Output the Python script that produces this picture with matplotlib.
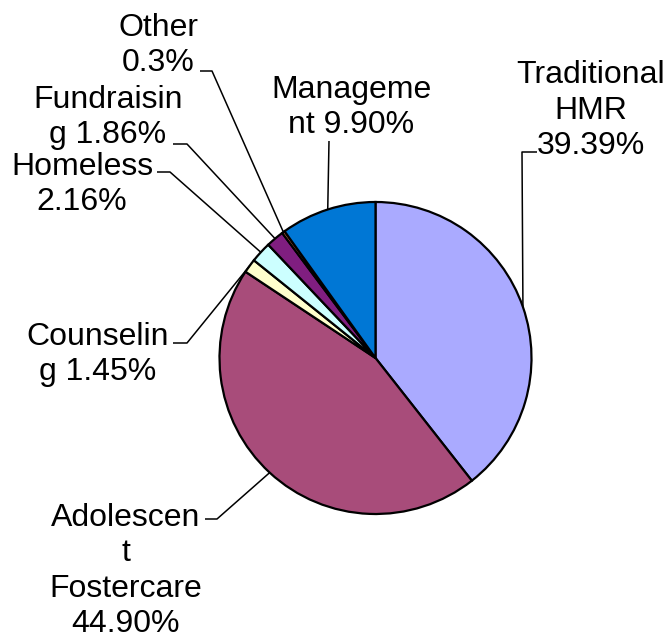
import numpy as np
import matplotlib
matplotlib.use("Agg")
import matplotlib.pyplot as plt

# ---- data ----
categories = ["Traditional HMR", "Adolescent Fostercare", "Counseling", "Homeless",
              "Fundraising", "Other", "Management"]
values = [39.39, 44.90, 1.45, 2.16, 1.86, 0.3, 9.90]
labels = ["Traditional\nHMR\n39.39%", "Adolescen\nt\nFostercare\n44.90%",
          "Counselin\ng 1.45%", "Homeless\n2.16%", "Fundraisin\ng 1.86%",
          "Other\n0.3%", "Manageme\nnt 9.90%"]
colors = ["#AAAAFF", "#A84C7A", "#FFFFCC", "#CCFFFF", "#801E80", "#E07040", "#0077D5"]

W, H = 668, 639
fig = plt.figure(figsize=(W / 100, H / 100), dpi=100)
ax = fig.add_axes([0, 0, 1, 1])

cx, cy, R = 375.5, H - 358, 156
wedges, _ = ax.pie(values, colors=colors, startangle=90, counterclock=False,
                   center=(cx, cy), radius=R,
                   wedgeprops=dict(edgecolor="black", linewidth=1.6))
ax.set_xlim(0, W)
ax.set_ylim(0, H)
ax.set_aspect("equal")
ax.axis("off")

# label layout (pixel coords from top): text x, last baseline y, stub start x, stub end x, stub y
layout = [
    (591, 154, 537, 522, 152, True),    # Traditional (vertical leader)
    (126, 632, 205, 217, 519, False),   # Adolescent
    (98, 380, 173, 187, 343, False),    # Counseling
    (82, 210, 157, 170, 172, False),    # Homeless
    (108, 143, 173, 187, 144, False),   # Fundraising
    (158, 71, 200, 212, 71, False),     # Other
    (351, 133, None, 329, 141, True),   # Management
]

for w, lab, (tx, ty, sx0, sx1, sy, vert) in zip(wedges, labels, layout):
    ax.text(tx, H - ty, lab, ha="center", va="baseline", multialignment="center",
            fontsize=23, family="Liberation Sans", linespacing=1.23, color="black")
    mid = np.deg2rad((w.theta1 + w.theta2) / 2)
    px, py = cx + R * np.cos(mid), cy + R * np.sin(mid)
    if vert:
        xs = [sx1, px] if sx0 is None else [sx0, sx1, px]
        ys = [H - sy, py] if sx0 is None else [H - sy, H - sy, py]
    else:
        xs = [sx0, sx1, px]
        ys = [H - sy, H - sy, py]
    ax.plot(xs, ys, color="black", lw=1.1, solid_capstyle="butt")

fig.savefig("out.png", dpi=100)
